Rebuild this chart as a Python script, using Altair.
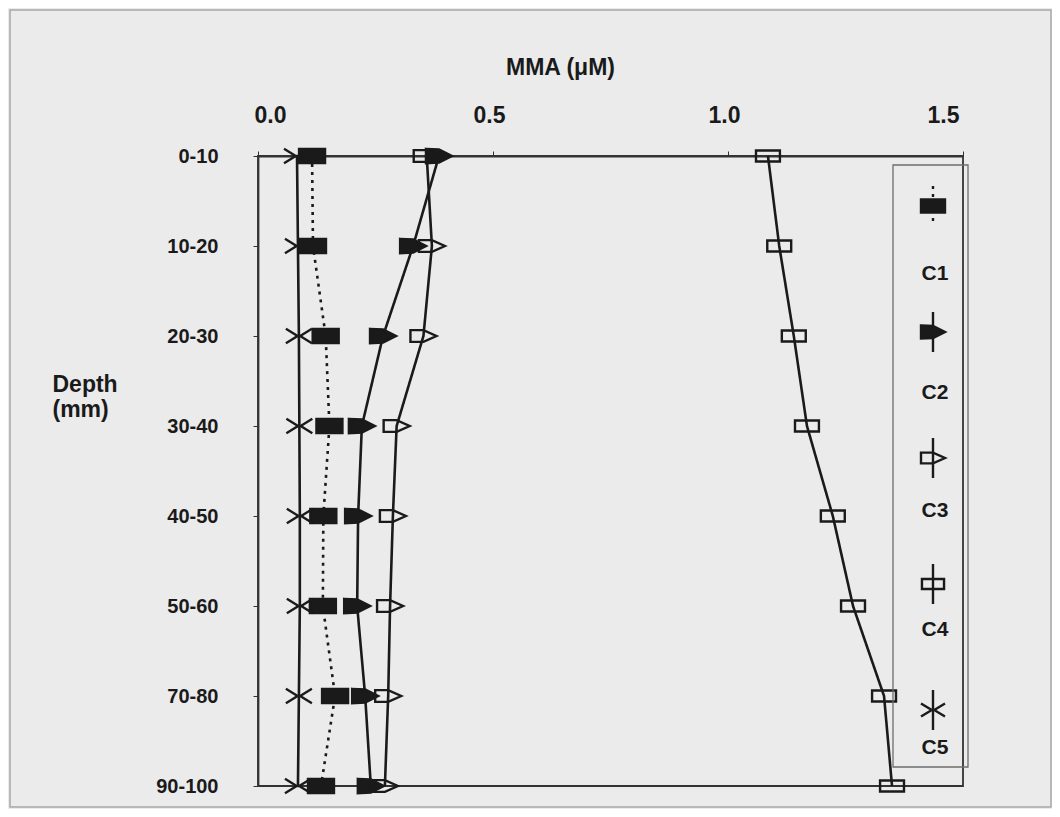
import altair as alt
import pandas as pd

# ---- data ----
depths = ["0-10", "10-20", "20-30", "30-40", "40-50", "50-60", "70-80", "90-100"]
series = ["C1", "C2", "C3", "C4", "C5"]
c1 = [0.115, 0.117, 0.144, 0.152, 0.139, 0.138, 0.164, 0.134]
c2 = [0.385, 0.330, 0.266, 0.221, 0.213, 0.211, 0.228, 0.240]
c3 = [0.359, 0.370, 0.352, 0.295, 0.287, 0.281, 0.277, 0.270]
c4 = [1.085, 1.109, 1.140, 1.168, 1.223, 1.266, 1.332, 1.349]
c5 = [0.083, 0.085, 0.087, 0.088, 0.089, 0.089, 0.087, 0.085]
x_ticks = [0.0, 0.5, 1.0, 1.5]

rows = []
for s, vals in zip(series, [c1, c2, c3, c4, c5]):
    for i, (d, v) in enumerate(zip(depths, vals)):
        rows.append({"series": s, "depth": d, "idx": i, "mma": v})
df = pd.DataFrame(rows)
leg = pd.DataFrame({"series": series})

FONT = "Liberation Sans"
INK = "#1a1a1a"

shape_paths = [
    "M-1,-0.55H1V0.55H-1Z",                                   # C1 filled box
    "M-1,-0.55L0,-0.5L1,0L0,0.5L-1,0.55Z",                    # C2 filled arrow
    "M-1,-0.45L0,-0.45L1,0L0,0.45L-1,0.45Z",                  # C3 open arrow
    "M-0.92,-0.42H0.92V0.42H-0.92Z",                          # C4 open box
    "M-1,-0.55L-0.1,0L-1,0.55M1,-0.55L0.1,0L1,0.55M-0.3,0H0.3",  # C5 ><
]
fills = [INK, INK, "transparent", "transparent", "transparent"]
dashes = [[3, 5], [1, 0], [1, 0], [1, 0], [1, 0]]

shape_scale = alt.Scale(domain=series, range=shape_paths)
fill_scale = alt.Scale(domain=series, range=fills)
dash_scale = alt.Scale(domain=series, range=dashes)

xscale = alt.Scale(domain=[0, 1.5], nice=False, zero=False)
yscale = alt.Scale(type="point", domain=depths, padding=0)

x_axis = alt.Axis(
    orient="top", values=x_ticks, format=".1f", labelFontSize=23,
    tickSize=5, labelPadding=24, labelFlush=True, labelOffset=-4,
    title="MMA (μM)", titleFontSize=23, titleX=302, titleY=-89,
    titleBaseline="middle", titleAlign="center", domainWidth=1.8,
)
y_axis = alt.Axis(
    title=["Depth", "(mm)"], titleAngle=0, titleAlign="left",
    titleBaseline="top", titleX=-206, titleY=217, titleFontSize=23,
    titleLineHeight=25, labelFontSize=20, tickSize=5, labelPadding=35,
    domainWidth=1.8,
)

base = alt.Chart(df)
lines = base.mark_line(color=INK, strokeWidth=2.6).encode(
    x=alt.X("mma:Q", scale=xscale, axis=x_axis),
    y=alt.Y("depth:N", scale=yscale, sort=depths, axis=y_axis),
    detail="series:N",
    order=alt.Order("idx:Q"),
    strokeDash=alt.StrokeDash("series:N", scale=dash_scale, legend=None),
)
points = base.mark_point(filled=True, size=676, stroke=INK, strokeWidth=2.4, opacity=1).encode(
    x=alt.X("mma:Q", scale=xscale, axis=x_axis),
    y=alt.Y("depth:N", scale=yscale, sort=depths, axis=None),
    shape=alt.Shape("series:N", scale=shape_scale, legend=None),
    fill=alt.Fill("series:N", scale=fill_scale, legend=None),
)

# ---- outer frame of the figure ----
outer = alt.Chart(pd.DataFrame({"k": [0]})).mark_rect(
    fill="transparent", stroke="#a8a8a8", strokeWidth=1.5
).encode(x=alt.value(-248), x2=alt.value(793), y=alt.value(-146), y2=alt.value(651))

# ---- hand-built legend box ----
leg_sym_y = alt.Y("series:N", scale=alt.Scale(type="point", domain=series, range=[50, 554], padding=0), axis=None)
leg_lab_y = alt.Y("series:N", scale=alt.Scale(type="point", domain=series, range=[118, 592], padding=0), axis=None)

leg_box = alt.Chart(pd.DataFrame({"k": [0]})).mark_rect(
    fill="transparent", stroke="#6e6e6e", strokeWidth=1.3
).encode(x=alt.value(635), x2=alt.value(710), y=alt.value(9), y2=alt.value(611))

leg_bars = alt.Chart(leg).mark_point(
    shape="M0,-1V1", size=1600, stroke=INK, strokeWidth=2.4, filled=False, opacity=1
).encode(
    x=alt.value(675), y=leg_sym_y,
    strokeDash=alt.StrokeDash("series:N", scale=dash_scale, legend=None),
)
leg_syms = alt.Chart(leg).mark_point(filled=True, size=576, stroke=INK, strokeWidth=2.4, opacity=1).encode(
    x=alt.value(675), y=leg_sym_y,
    shape=alt.Shape("series:N", scale=shape_scale, legend=None),
    fill=alt.Fill("series:N", scale=fill_scale, legend=None),
)
leg_text = alt.Chart(leg).mark_text(
    font=FONT, fontSize=21, fontWeight="bold", color=INK, align="center", baseline="middle"
).encode(x=alt.value(677), y=leg_lab_y, text="series:N")

chart = (
    alt.layer(lines, points, outer, leg_box, leg_bars, leg_syms, leg_text)
    .resolve_scale(y="independent")
    .properties(
        width=705, height=630, background="#ebebeb",
        padding={"left": 250, "top": 148, "right": 89, "bottom": 23},
        autosize=alt.AutoSizeParams(type="none"),
    )
    .configure_view(stroke="#333333", strokeWidth=1.8)
    .configure_axis(
        labelFont=FONT, titleFont=FONT, labelFontWeight="bold", titleFontWeight="bold",
        labelColor=INK, titleColor=INK, domainColor="#333333", tickColor="#333333", grid=False,
    )
)

chart.save("out.html", embed_options={"renderer": "svg", "actions": False})
